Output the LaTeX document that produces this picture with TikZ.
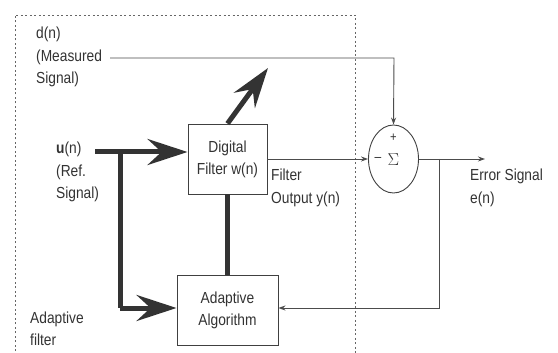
\documentclass[tikz,border=0pt]{standalone}
\usepackage{fontspec}
\setmainfont{Liberation Sans}[FakeStretch=0.86]
\usetikzlibrary{arrows.meta,shapes.geometric}
\begin{document}
\begin{tikzpicture}[x=1pt,y=-1pt,
  lbl/.style={font=\fontsize{16}{22.5}\selectfont, align=left, inner sep=0pt, text=black!80},
  blk/.style={draw=black!75, line width=0.9pt, font=\fontsize{16}{22}\selectfont, align=center, text=black!80},
  thick arrow/.style={draw=black!80, line width=5pt, -{Stealth[length=40pt,width=26pt,inset=14pt]}},
  thick line/.style={draw=black!80, line width=5pt},
  thin/.style={draw=black!70, line width=0.9pt},
  thinarrow/.style={thin, -{Stealth[length=7pt,width=5pt]}},
  dashbox/.style={draw=black!60, line width=0.9pt, dash pattern=on 2pt off 2.5pt}
]
\useasboundingbox (0,0) rectangle (558,353);
\fill[white] (0,0) rectangle (558,353);
% dashed adaptive filter boundary
\draw[dashbox] (15,360) -- (15,15) -- (355,15) -- (355,360);

% blocks
\node[blk, minimum width=79pt, minimum height=70pt] (df) at (227.5,159) {Digital\\Filter w(n)};
\node[blk, minimum width=101pt, minimum height=70pt] (aa) at (227.5,310) {Adaptive\\Algorithm};
\node[draw=black!75, line width=0.9pt, ellipse, minimum width=50pt, minimum height=68pt, inner sep=0pt] (sum) at (393.5,159) {};
\node[font=\fontsize{19}{19}\selectfont, text=black!80] (sig) at (393.5,160) {$\Sigma$};
\node[font=\fontsize{13}{13}\selectfont, text=black!80] (plus) at (393.5,138) {+};
\node[font=\fontsize{14}{14}\selectfont, text=black!80] (minus) at (378,159) {--};

% labels
\node[lbl, anchor=west] (dn) at (36,57) {d(n)\\(Measured\\Signal)};
\node[lbl, anchor=west] (un) at (56,172) {\textbf{u}(n)\\(Ref.\\Signal)};
\node[lbl, anchor=west] (fo) at (271,188) {Filter\\Output y(n)};
\node[lbl, anchor=west] (es) at (470,188) {Error Signal\\e(n)};
\node[lbl, anchor=west] (af) at (30,329) {Adaptive\\filter};

% coordinates
\coordinate (uend) at (95,152);
\coordinate (ucorner) at (120,152);
\coordinate (adown) at (120,308);
\coordinate (dcorner) at (394,58);
\coordinate (dstart) at (110,58);
\coordinate (eout) at (485,159);
\coordinate (ebranch) at (439,159);
\coordinate (ebottom) at (439,308);
\coordinate (diagtip) at (268,68);

% thick paths
\draw[thick line] (ucorner) -- (adown);
\draw[thick arrow] (uend) -- (df.west |- uend);
\draw[thick arrow] (adown) -- (aa.west |- adown);
\draw[thick line] (df.south) -- (aa.north);
\draw[thick arrow] (df.north) -- (diagtip);

% thin signal paths
\draw[thinarrow] (dstart) -- (dcorner) -- (sum.north);
\draw[thinarrow] (df.east) -- (sum.west);
\draw[thinarrow] (sum.east) -- (eout);
\draw[thinarrow] (ebranch) -- (ebottom) -- (aa.east |- ebottom);
\end{tikzpicture}
\end{document}
